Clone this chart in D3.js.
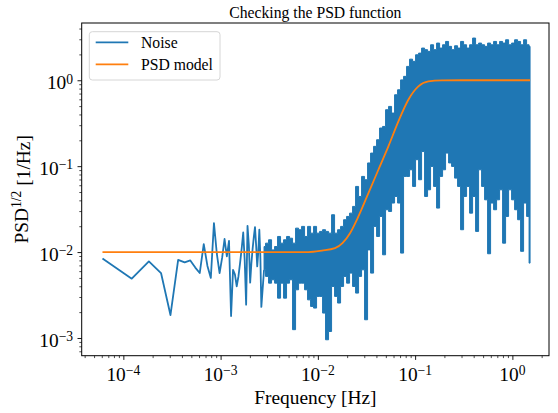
<!DOCTYPE html>
<html>
<head>
<meta charset="utf-8">
<script src="https://cdn.jsdelivr.net/npm/d3@7/dist/d3.min.js"></script>
<style>
body { margin: 0; background: #fff; }
text { font-family: "Liberation Serif", "Times New Roman", serif; fill: #000; }
</style>
</head>
<body>
<svg id="chart" width="558" height="413"></svg>
<script>
// noise: low frequency bins, one point each
var sparseFreq = [6.1e-5,1.22e-4,1.83e-4,2.44e-4,3.05e-4,3.66e-4,4.27e-4,4.88e-4,5.49e-4,6.10e-4,
	6.71e-4,7.32e-4,7.93e-4,8.54e-4,9.15e-4,9.76e-4,1.037e-3,1.098e-3,1.159e-3,1.22e-3,
	1.281e-3,1.342e-3,1.403e-3,1.464e-3,1.525e-3,1.586e-3,1.647e-3,1.708e-3,1.769e-3,1.83e-3,
	1.891e-3,1.952e-3,2.013e-3,2.074e-3,2.135e-3,2.196e-3,2.257e-3,2.318e-3,2.379e-3,2.44e-3,
	2.501e-3,2.562e-3,2.623e-3];
var sparseVal = [0.0084,0.0049,0.0078,0.0057,0.00185,0.0081,0.0076,0.0080,0.0066,0.0057,
	0.0124,0.0069,0.0050,0.0217,0.0095,0.0057,0.0086,0.0142,0.0089,0.0135,
	0.0018,0.0062,0.0055,0.0040,0.0052,0.0075,0.0110,0.0169,0.0080,0.00244,
	0.0202,0.0120,0.0044,0.0075,0.0110,0.0150,0.0195,0.0120,0.0068,0.0100,
	0.0182,0.0090,0.0023];

// noise: dense part, highest and lowest value seen in each narrow bin
var bandFreq = [0.002797,0.003003,0.003225,0.003462,0.003717,0.003990,0.004284,0.004599,0.004938,0.005301,
	0.005692,0.006111,0.006561,0.007044,0.007562,0.008119,0.008717,0.009359,0.01005,0.01079,
	0.01158,0.01243,0.01335,0.01433,0.01539,0.01652,0.01774,0.01904,0.02045,0.02195,
	0.02357,0.02530,0.02716,0.02916,0.03131,0.03361,0.03609,0.03874,0.04160,0.04466,
	0.04795,0.05147,0.05527,0.05933,0.06370,0.06839,0.07342,0.07883,0.08463,0.09086,
	0.09757,0.1047,0.1125,0.1207,0.1296,0.1391,0.1494,0.1604,0.1722,0.1849,
	0.1985,0.2131,0.2288,0.2456,0.2637,0.2831,0.3040,0.3264,0.3504,0.3762,
	0.4039,0.4336,0.4656,0.4998,0.5366,0.5761,0.6186,0.6641,0.7130,0.7655,
	0.8219,0.8824,0.9474,1.017,1.092,1.172,1.259,1.351,1.451,1.52];
var bandHi = [0.0116,0.0127,0.0139,0.0106,0.0116,0.0152,0.0127,0.0139,0.0152,0.0145,
	0.0127,0.0190,0.0182,0.0199,0.0152,0.0199,0.0166,0.0199,0.0166,0.0174,
	0.0182,0.0174,0.0166,0.0272,0.0166,0.0182,0.0199,0.0238,0.0260,0.0284,
	0.0340,0.0581,0.0444,0.0760,0.0695,0.109,0.142,0.170,0.203,0.278,
	0.290,0.454,0.496,0.415,0.678,0.775,1.01,1.11,1.45,1.76,
	1.66,1.98,2.07,2.37,2.27,2.17,2.59,2.27,2.71,2.37,
	2.59,2.83,2.48,2.27,2.52,2.37,2.83,2.59,2.37,2.59,
	3.10,2.59,2.71,2.59,2.48,2.71,2.59,2.83,2.59,2.83,
	2.71,2.96,2.59,2.71,2.96,2.83,2.59,2.96,2.59,2.48];
var bandLo = [0.00622,0.00521,0.00435,0.00476,0.00435,0.00291,0.00435,0.00291,0.00435,0.00476,
	0.00125,0.00364,0.00435,0.00435,0.00364,0.00278,0.00233,0.00223,0.00305,0.00305,
	0.00195,0.000953,0.00119,0.00398,0.00305,0.00255,0.00398,0.00521,0.00435,0.00569,
	0.00398,0.00333,0.00521,0.00622,0.00163,0.0106,0.00569,0.0199,0.0152,0.0260,
	0.0093,0.0311,0.0297,0.0372,0.0444,0.0372,0.00973,0.0760,0.0760,0.0908,
	0.0581,0.119,0.0695,0.148,0.0444,0.0531,0.0993,0.0581,0.0325,0.0760,
	0.0908,0.142,0.109,0.0993,0.0726,0.0581,0.0182,0.0444,0.0581,0.0284,
	0.0444,0.0174,0.0908,0.0581,0.0406,0.00956,0.0372,0.0311,0.0406,0.0531,
	0.0127,0.0260,0.0531,0.0406,0.0311,0.0238,0.0102,0.0372,0.0260,0.00744];

// PSD model
var modelFreq = [6.1e-5,0.0080,0.0110,0.0150,0.0179,0.0214,0.0261,0.0331,0.0419,0.0531,
	0.0673,0.0852,0.108,0.137,0.188,0.30,1.52];
var modelVal = [0.0100,0.0100,0.0104,0.0111,0.0127,0.0166,0.0260,0.0486,0.0908,0.170,
	0.332,0.593,0.847,0.968,0.995,1.0,1.0];

var xTicks = [1e-4,1e-3,1e-2,1e-1,1e0];
var xTickExp = ["\u22124","\u22123","\u22122","\u22121","0"];
var yTicks = [1e-3,1e-2,1e-1,1e0];
var yTickExp = ["\u22123","\u22122","\u22121","0"];
var seriesNames = ["Noise","PSD model"];
var colours = ["#1f77b4","#ff7f0e"];

var W = 558, H = 413;
var margin = {top: 23, right: 9, bottom: 57.3, left: 81.7};
var svg = d3.select("#chart");

var x = d3.scaleLog()
	.domain([3.73e-5, 2.38])
	.range([margin.left, W - margin.right]);
var y = d3.scaleLog()
	.domain([6.22e-4, 4.64])
	.range([H - margin.bottom, margin.top]);

svg.append("clipPath").attr("id","plotclip")
	.append("rect")
	.attr("x", margin.left).attr("y", margin.top)
	.attr("width", W - margin.left - margin.right)
	.attr("height", H - margin.top - margin.bottom);

var plot = svg.append("g").attr("clip-path","url(#plotclip)");

// dense noise drawn as a band between the bin extremes
var band = bandFreq.map(function(f,i){ return {f: f, hi: bandHi[i], lo: bandLo[i]}; });
var area = d3.area()
	.x(function(d){ return x(d.f); })
	.y0(function(d){ return y(d.lo); })
	.y1(function(d){ return y(d.hi); })
	.curve(d3.curveStep);
plot.append("path")
	.datum(band)
	.attr("d", area)
	.attr("fill", colours[0])
	.attr("stroke", colours[0])
	.attr("stroke-width", 1)
	.attr("stroke-linejoin", "round");

var sparse = sparseFreq.map(function(f,i){ return {f: f, v: sparseVal[i]}; });
sparse.push({f: bandFreq[0], v: bandLo[0]});
var line = d3.line()
	.x(function(d){ return x(d.f); })
	.y(function(d){ return y(d.v); });
plot.append("path")
	.datum(sparse)
	.attr("d", line)
	.attr("fill", "none")
	.attr("stroke", colours[0])
	.attr("stroke-width", 1.8)
	.attr("stroke-linejoin", "round");

var model = modelFreq.map(function(f,i){ return {f: f, v: modelVal[i]}; });
plot.append("path")
	.datum(model)
	.attr("d", line.curve(d3.curveMonotoneX))
	.attr("fill", "none")
	.attr("stroke", colours[1])
	.attr("stroke-width", 1.8);

// minor ticks
var xMinor = x.ticks().filter(function(t){ return Math.abs(Math.log10(t) - Math.round(Math.log10(t))) > 1e-6; });
var yMinor = y.ticks().filter(function(t){ return Math.abs(Math.log10(t) - Math.round(Math.log10(t))) > 1e-6; });

var xAxisMinor = svg.append("g")
	.attr("transform", "translate(0," + (H - margin.bottom) + ")")
	.call(d3.axisBottom(x).tickValues(xMinor).tickSize(2.4).tickFormat(""));
var xAxis = svg.append("g")
	.attr("transform", "translate(0," + (H - margin.bottom) + ")")
	.call(d3.axisBottom(x).tickValues(xTicks).tickSize(4.2).tickFormat(""));
var yAxisMinor = svg.append("g")
	.attr("transform", "translate(" + margin.left + ",0)")
	.call(d3.axisLeft(y).tickValues(yMinor).tickSize(2.4).tickFormat(""));
var yAxis = svg.append("g")
	.attr("transform", "translate(" + margin.left + ",0)")
	.call(d3.axisLeft(y).tickValues(yTicks).tickSize(4.2).tickFormat(""));

svg.selectAll(".domain").remove();
xAxis.selectAll("line").attr("stroke-width", 0.9);
yAxis.selectAll("line").attr("stroke-width", 0.9);
xAxisMinor.selectAll("line").attr("stroke-width", 0.7);
yAxisMinor.selectAll("line").attr("stroke-width", 0.7);

// tick labels 10^n
xTicks.forEach(function(t,i){
	var lab = svg.append("text")
		.attr("x", x(t))
		.attr("y", 380.5)
		.attr("text-anchor", "middle")
		.attr("font-size", "19.4px");
	lab.append("tspan").text("10");
	lab.append("tspan").attr("dy", "-0.42em").attr("font-size", "13.6px").text(xTickExp[i]);
});
yTicks.forEach(function(t,i){
	var lab = svg.append("text")
		.attr("x", margin.left - 8.6)
		.attr("y", y(t) + 9)
		.attr("text-anchor", "end")
		.attr("font-size", "19.4px");
	lab.append("tspan").text("10");
	lab.append("tspan").attr("dy", "-0.42em").attr("font-size", "13.6px").text(yTickExp[i]);
});

// frame
svg.append("rect")
	.attr("x", margin.left).attr("y", margin.top)
	.attr("width", W - margin.left - margin.right)
	.attr("height", H - margin.top - margin.bottom)
	.attr("fill", "none")
	.attr("stroke", "#000")
	.attr("stroke-width", 1);

// title and axis labels
var midX = (margin.left + W - margin.right) / 2;
var midY = (margin.top + H - margin.bottom) / 2;
svg.append("text")
	.attr("x", midX).attr("y", 18)
	.attr("text-anchor", "middle")
	.attr("font-size", "15.7px")
	.text("Checking the PSD function");
svg.append("text")
	.attr("x", midX).attr("y", 404)
	.attr("text-anchor", "middle")
	.attr("font-size", "19.4px")
	.text("Frequency [Hz]");
var yl = svg.append("text")
	.attr("transform", "translate(27.5," + midY + ") rotate(-90)")
	.attr("text-anchor", "middle")
	.attr("font-size", "19.4px");
yl.append("tspan").text("PSD");
yl.append("tspan").attr("dy", "-0.45em").attr("font-size", "13.6px").text("1/2");
yl.append("tspan").attr("dy", "0.45em").text(" [1/Hz]");

// legend
var legend = svg.append("g");
legend.append("rect")
	.attr("x", 89.3).attr("y", 31.7)
	.attr("width", 130.7).attr("height", 48.3)
	.attr("rx", 3).attr("ry", 3)
	.attr("fill", "#fff").attr("fill-opacity", 0.8)
	.attr("stroke", "#d6d6d6").attr("stroke-width", 1);
seriesNames.forEach(function(n,i){
	var ly = 42.3 + i * 22;
	legend.append("line")
		.attr("x1", 95.7).attr("x2", 128.3)
		.attr("y1", ly).attr("y2", ly)
		.attr("stroke", colours[i]).attr("stroke-width", 1.8);
	legend.append("text")
		.attr("x", 141).attr("y", ly + 6)
		.attr("font-size", "15.7px")
		.text(n);
});
</script>
</body>
</html>
